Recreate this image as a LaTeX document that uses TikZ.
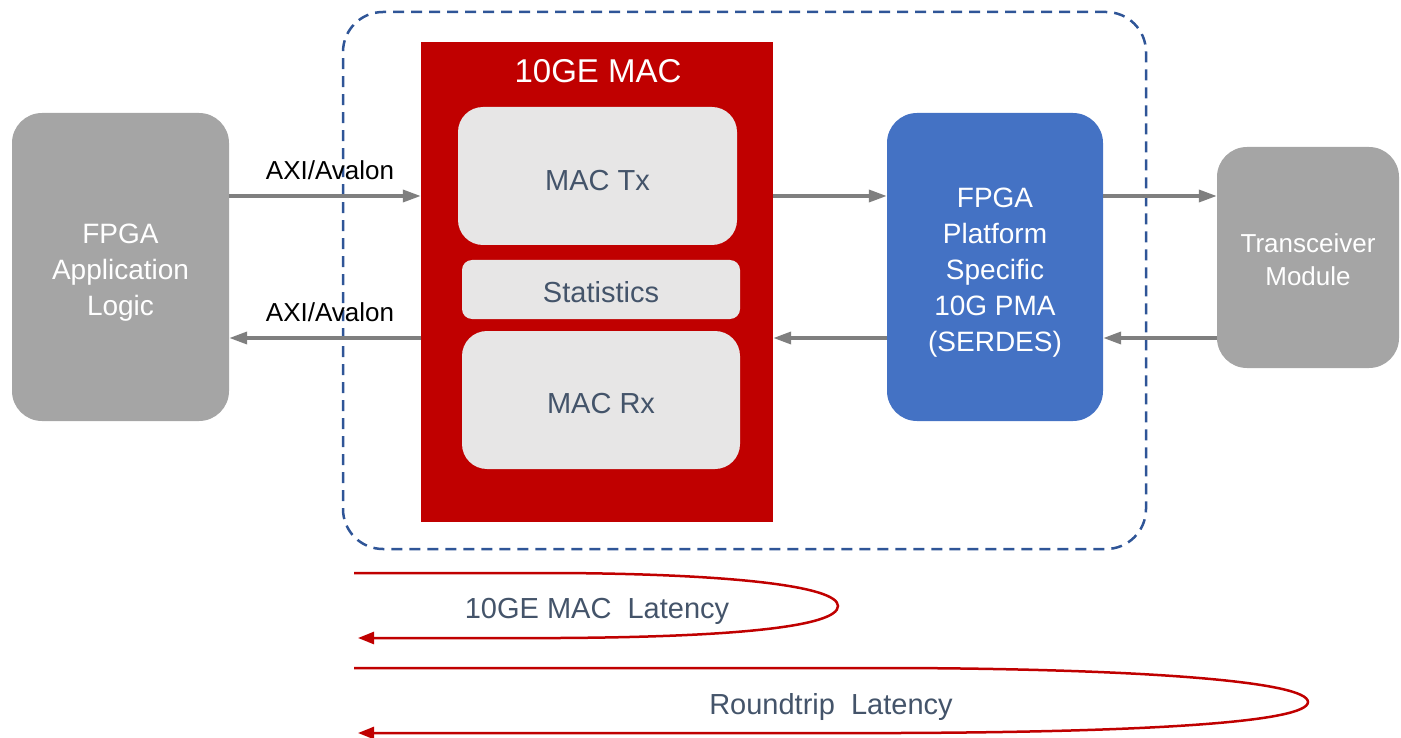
\documentclass[tikz,border=0pt]{standalone}
\usepackage{fontspec}
\setmainfont{Liberation Sans}
\usetikzlibrary{arrows.meta}
\definecolor{boxgray}{HTML}{A5A5A5}
\definecolor{flowgray}{HTML}{7F7F7F}
\definecolor{macred}{HTML}{C00000}
\definecolor{pmablue}{HTML}{4472C4}
\definecolor{subgray}{HTML}{E7E6E6}
\definecolor{slate}{HTML}{44546A}
\definecolor{dashblue}{HTML}{2F5597}
\begin{document}
\begin{tikzpicture}
[x=1pt,y=-1pt,every node/.style={inner sep=0pt,align=center},
 bigbox/.style={fill=boxgray,rounded corners=30pt},
 bigtext/.style={text=white,font=\fontsize{28}{36}\selectfont},
 subbox/.style={fill=subgray,rounded corners=25pt},
 subtext/.style={text=slate,font=\fontsize{29}{34}\selectfont},
 flow/.style={draw=flowgray,line width=3.5pt,-{Triangle[length=18pt,width=12pt]}},
 loop/.style={draw=macred,line width=2.5pt,-{Triangle[length=16pt,width=12pt]}},
 axi/.style={font=\fontsize{26}{30}\selectfont}]
  \useasboundingbox (0,0) rectangle (1401,738);
  \node (dut) at (744.5,280.5) [draw=dashblue,line width=2.5pt,dash pattern=on 11pt off 7pt,
    rounded corners=40pt,minimum width=803pt,minimum height=537pt] {};
  \node (app) at (120.5,267) [bigbox,minimum width=217pt,minimum height=308pt] {};
  \node (mac) at (597,282) [fill=macred,minimum width=352pt,minimum height=480pt] {};
  \node (mactx) at (597.5,176) [subbox,minimum width=279pt,minimum height=138pt] {};
  \node (stats) at (601,289.5) [subbox,rounded corners=10pt,minimum width=278pt,minimum height=59pt] {};
  \node (macrx) at (601,400) [subbox,minimum width=278pt,minimum height=138pt] {};
  \node (pma) at (995,267) [bigbox,fill=pmablue,minimum width=216pt,minimum height=308pt] {};
  \node (xcvr) at (1308,257.5) [bigbox,minimum width=182pt,minimum height=221pt] {};

  \node (apptext) at ([yshift=-6pt]app) [bigtext] {FPGA\\Application\\Logic};
  \node (title) at (598,71) [text=white,font=\fontsize{33}{38}\selectfont] {10GE MAC};
  \node (mactxtext) at ([yshift=-5pt]mactx) [subtext] {MAC Tx};
  \node (statstext) at ([yshift=-3pt]stats) [subtext] {Statistics};
  \node (macrxtext) at ([yshift=-4pt]macrx) [subtext] {MAC Rx};
  \node (pmatext) at ([yshift=-6pt]pma) [bigtext] {FPGA\\Platform\\Specific\\10G PMA\\(SERDES)};
  \node (xcvrtext) at ([yshift=-2pt]xcvr) [bigtext,font=\fontsize{26}{33}\selectfont] {Transceiver\\Module};

  \coordinate (txlane) at (0,196);
  \coordinate (rxlane) at (0,338);
  \foreach \from/\to in {app/mac, mac/pma, pma/xcvr}
    \draw[flow] (\from.east |- txlane) -- (\to.west |- txlane);
  \foreach \from/\to in {app/mac, mac/pma, pma/xcvr}
    \draw[flow] (\to.west |- rxlane) -- (\from.east |- rxlane);
  \node (axitx) at (330,170) [axi] {AXI/Avalon};
  \node (axirx) at (330,312) [axi] {AXI/Avalon};

  \node (lat1) at (597,611) [subtext] {10GE MAC\ \ Latency};
  \node (lat2) at (831,707) [subtext] {Roundtrip\ \ Latency};
  \coordinate (l1a) at (354,573);
  \coordinate (l1b) at (358,638);
  \coordinate (l2a) at (354,668);
  \coordinate (l2b) at (358,733);
  \draw[loop] (l1a) -- (560,573) .. controls (730,574) and (838,586) .. (838,606)
    .. controls (838,627) and (730,637) .. (560,638) -- (l1b);
  \draw[loop] (l2a) -- (900,668) .. controls (1150,669) and (1308,682) .. (1308,702)
    .. controls (1308,722) and (1150,732) .. (900,733) -- (l2b);
\end{tikzpicture}
\end{document}
